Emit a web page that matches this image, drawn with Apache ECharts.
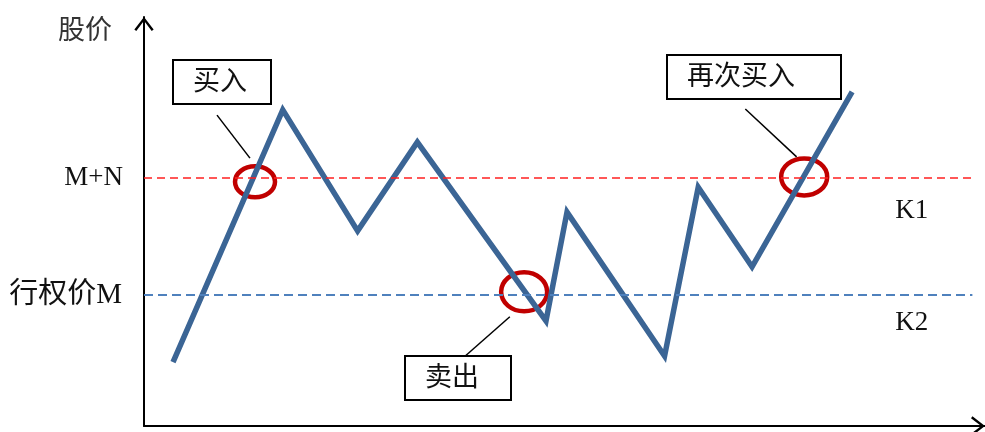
<!DOCTYPE html>
<html>
<head>
<meta charset="utf-8">
<script src="https://cdn.jsdelivr.net/npm/echarts@6/dist/echarts.min.js"></script>
<style>
  html, body { margin: 0; padding: 0; background: #fff; }
  #main { width: 985px; height: 432px; }
</style>
</head>
<body>
<div id="main"></div>
<script>
// price path (time 0-100, price 0-100)
let timeX = [3.45, 16.5, 25.4, 32.5, 47.8, 50.3, 61.9, 65.9, 72.3, 84.2];
let price = [15.6, 77.3, 47.7, 69.4, 25.7, 52.3, 17.1, 58.4, 38.9, 81.7];

// levels
let levelMN = 60.6;   // M+N
let levelM = 32.0;    // 行权价M
let levelEnd = 98.5;

// crossing marks
let markX = [13.2, 45.2, 78.5];
let markY = [59.7, 32.8, 60.9];

// callouts
let calloutText = ['买入', '卖出', '再次买入'];
let calloutX = [9.27, 37.3, 72.5];
let calloutY = [84.2, 11.7, 85.3];
let leaderFrom = [[8.68, 76.0], [43.5, 26.7], [71.5, 77.5]];
let leaderTo = [[12.6, 65.5], [38.2, 17.1], [77.6, 65.8]];

// zone labels
let zoneText = ['K1', 'K2'];
let zoneX = [91.3, 91.3];
let zoneY = [52.6, 25.2];

let serif = "'Liberation Serif', 'Noto Sans CJK SC', serif";
let arrow = 'path://M10,0 L20,13 L18,14.5 L10,4 L2,14.5 L0,13 Z';
let ringSize = [[20, 15.5], [23, 19.5], [23, 18.5]];
let boxWidth = [98, 106, 174];

let myChart = echarts.init(document.getElementById('main'));

let axisCommon = {
    type: 'value',
    min: 0,
    max: 100,
    axisLine: {
        show: true,
        symbol: ['none', arrow],
        symbolSize: [20, 14],
        symbolOffset: [0, -7],
        lineStyle: { color: '#000', width: 2 }
    },
    axisTick: { show: false },
    axisLabel: { show: false },
    splitLine: { show: false }
};

let option = {
    backgroundColor: '#fff',
    animation: false,
    title: {
        text: '股价',
        left: 53,
        top: 13,
        textStyle: { fontFamily: serif, fontSize: 27, fontWeight: 'normal', color: '#333' }
    },
    grid: { left: 144, right: 0, top: 17, bottom: 6 },
    xAxis: axisCommon,
    yAxis: axisCommon,
    series: [
        {
            // level lines
            type: 'line',
            data: [],
            markLine: {
                silent: true,
                symbol: ['none', 'none'],
                data: [
                    [
                        { coord: [0, levelMN], lineStyle: { color: '#ff2020', width: 1.5, type: [8, 5] },
                          label: { show: true, position: 'start', formatter: 'M+N', distance: 21, fontSize: 27 } },
                        { coord: [levelEnd, levelMN] }
                    ],
                    [
                        { coord: [0, levelM], lineStyle: { color: '#4f81bd', width: 2, type: [9, 5] },
                          label: { show: true, position: 'start', formatter: '行权价M', distance: 22, fontSize: 29 } },
                        { coord: [levelEnd, levelM] }
                    ]
                ],
                label: { fontFamily: serif, color: '#111' }
            },
            z: 1
        },
        {
            // leader lines
            type: 'line',
            data: [],
            markLine: {
                silent: true,
                symbol: ['none', 'none'],
                label: { show: false },
                lineStyle: { color: '#000', width: 1.5, type: 'solid' },
                data: leaderFrom.map((p, i) => [{ coord: p }, { coord: leaderTo[i] }])
            },
            z: 2
        },
        {
            // red rings
            type: 'custom',
            silent: true,
            data: markX.map((x, i) => [x, markY[i]]),
            renderItem: function (params, api) {
                let c = api.coord([api.value(0), api.value(1)]);
                let s = ringSize[params.dataIndex];
                return {
                    type: 'ellipse',
                    shape: { cx: c[0], cy: c[1], rx: s[0], ry: s[1] },
                    style: { fill: 'none', stroke: '#c00000', lineWidth: 4.5 }
                };
            },
            z: 3
        },
        {
            type: 'line',
            data: timeX.map((x, i) => [x, price[i]]),
            showSymbol: false,
            silent: true,
            lineStyle: { color: '#3b6595', width: 5.5, join: 'miter' },
            z: 4
        },
        {
            // callout boxes
            type: 'custom',
            silent: true,
            data: calloutText.map((t, i) => [calloutX[i], calloutY[i]]),
            renderItem: function (params, api) {
                let c = api.coord([api.value(0), api.value(1)]);
                let w = boxWidth[params.dataIndex];
                let h = 44;
                let x0 = Math.round(c[0] - w / 2);
                let y0 = Math.round(c[1] - h / 2);
                return {
                    type: 'group',
                    children: [
                        {
                            type: 'rect',
                            shape: { x: x0, y: y0, width: w, height: h },
                            style: { fill: '#fff', stroke: '#000', lineWidth: 2 }
                        },
                        {
                            type: 'text',
                            x: x0 + 20,
                            y: y0 + h / 2 + 1,
                            style: {
                                text: calloutText[params.dataIndex],
                                font: "27px 'Liberation Serif', 'Noto Sans CJK SC', serif",
                                fill: '#111',
                                align: 'left',
                                verticalAlign: 'middle'
                            }
                        }
                    ]
                };
            },
            z: 5
        },
        {
            // zone labels
            type: 'custom',
            silent: true,
            data: zoneText.map((t, i) => [zoneX[i], zoneY[i]]),
            renderItem: function (params, api) {
                let c = api.coord([api.value(0), api.value(1)]);
                return {
                    type: 'text',
                    x: c[0],
                    y: c[1],
                    style: {
                        text: zoneText[params.dataIndex],
                        font: "27px 'Liberation Serif', serif",
                        fill: '#111',
                        align: 'center',
                        verticalAlign: 'middle'
                    }
                };
            },
            z: 5
        }
    ]
};

myChart.setOption(option);
</script>
</body>
</html>
